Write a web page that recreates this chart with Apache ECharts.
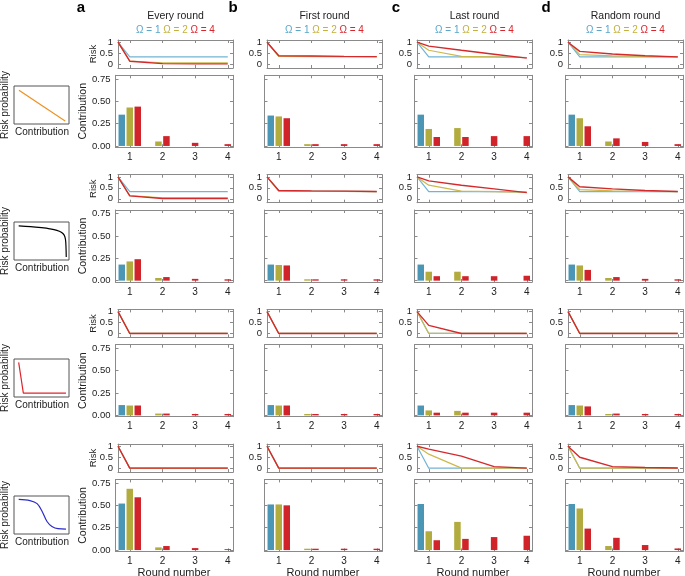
<!DOCTYPE html>
<html>
<head>
<meta charset="UTF-8">
<title>Risk and contribution per round</title>
<script src="https://cdn.jsdelivr.net/npm/echarts@6/dist/echarts.min.js"></script>
<style>
  html, body { margin: 0; padding: 0; background: #fff; }
  #chart { width: 685px; height: 576px; }
</style>
</head>
<body>
<div id="chart"></div>
<script>
var colTitles = ['Every round', 'First round', 'Last round', 'Random round'];
var panelLetters = ['a', 'b', 'c', 'd'];
var omegaLabels = ['Ω = 1', 'Ω = 2', 'Ω = 4'];
var rounds = [1, 2, 3, 4];
var riskRounds = [0.64, 1, 2, 3, 4];   // first point = before round 1
var riskTicks = [0, 0.5, 1];
var contribTicks = [0, 0.25, 0.5, 0.75];

// risk probability functions shown on the left, [contribution, risk]
var curveLinear = [[0.09, 0.89], [0.93, 0.08]];
var curveConcave = [[0.085, 0.9], [0.3, 0.88], [0.5, 0.85], [0.65, 0.82], [0.78, 0.78], [0.86, 0.73], [0.91, 0.66], [0.935, 0.55], [0.945, 0.35], [0.95, 0.08]];
var curveStep = [[0.085, 0.91], [0.17, 0.1], [0.945, 0.1]];
var curveSigmoid = [[0.085, 0.91], [0.29, 0.88], [0.42, 0.8], [0.51, 0.6], [0.6, 0.33], [0.69, 0.2], [0.8, 0.14], [0.945, 0.13]];

// risk after each round, per omega [1, 2, 4]
var riskA1 = [[1, 0.33, 0.33, 0.33, 0.33], [1, 0.14, 0.06, 0.06, 0.06], [1, 0.13, 0.02, 0.01, 0.01]];
var riskB1 = [[1, 0.36, 0.35, 0.34, 0.34], [1, 0.35, 0.34, 0.34, 0.34], [1, 0.38, 0.37, 0.35, 0.34]];
var riskC1 = [[1, 0.33, 0.33, 0.33, 0.3], [1, 0.63, 0.35, 0.33, 0.3], [1, 0.82, 0.63, 0.45, 0.27]];
var riskD1 = [[1, 0.33, 0.33, 0.33, 0.33], [1, 0.43, 0.37, 0.35, 0.33], [1, 0.58, 0.46, 0.38, 0.33]];
var riskA2 = [[1, 0.33, 0.33, 0.33, 0.33], [1, 0.14, 0.04, 0.04, 0.04], [1, 0.13, 0.01, 0.01, 0.01]];
var riskB2 = [[1, 0.36, 0.35, 0.34, 0.33], [1, 0.35, 0.34, 0.34, 0.33], [1, 0.38, 0.36, 0.35, 0.33]];
var riskC2 = [[1, 0.33, 0.33, 0.33, 0.3], [1, 0.62, 0.35, 0.33, 0.3], [1, 0.82, 0.62, 0.45, 0.28]];
var riskD2 = [[1, 0.33, 0.33, 0.33, 0.33], [1, 0.42, 0.36, 0.34, 0.33], [1, 0.55, 0.45, 0.38, 0.33]];
var riskA3 = [[1, 0, 0, 0, 0], [1, 0, 0, 0, 0], [1, 0, 0, 0, 0]];
var riskB3 = [[1, 0, 0, 0, 0], [1, 0, 0, 0, 0], [1, 0, 0, 0, 0]];
var riskC3 = [[1, 0, 0, 0, 0], [1, 0, 0, 0, 0], [1, 0.37, 0, 0, 0]];
var riskD3 = [[1, 0, 0, 0, 0], [1, 0, 0, 0, 0], [1, 0, 0, 0, 0]];
var riskA4 = [[1, 0, 0, 0, 0], [1, 0, 0, 0, 0], [1, 0, 0, 0, 0]];
var riskB4 = [[1, 0, 0, 0, 0], [1, 0, 0, 0, 0], [1, 0, 0, 0, 0]];
var riskC4 = [[1, 0, 0, 0, 0], [1, 0.64, 0, 0, 0], [1, 0.87, 0.55, 0.07, 0]];
var riskD4 = [[1, 0, 0, 0, 0], [1, 0, 0, 0, 0], [1, 0.5, 0.07, 0.03, 0.01]];

// mean contribution per round, per omega [1, 2, 4]
var contribA1 = [[0.35, 0, 0, 0], [0.43, 0.05, 0, 0], [0.44, 0.11, 0.035, 0.02]];
var contribB1 = [[0.34, 0, 0, 0], [0.33, 0.02, 0, 0], [0.31, 0.02, 0.02, 0.02]];
var contribC1 = [[0.35, 0, 0, 0], [0.19, 0.2, 0, 0], [0.1, 0.1, 0.11, 0.11]];
var contribD1 = [[0.35, 0, 0, 0], [0.31, 0.05, 0, 0], [0.22, 0.085, 0.045, 0.02]];
var contribA2 = [[0.18, 0, 0, 0], [0.215, 0.03, 0, 0], [0.24, 0.04, 0.02, 0.015]];
var contribB2 = [[0.18, 0, 0, 0], [0.175, 0.015, 0, 0], [0.17, 0.015, 0.015, 0.015]];
var contribC2 = [[0.18, 0, 0, 0], [0.1, 0.1, 0, 0], [0.05, 0.05, 0.05, 0.055]];
var contribD2 = [[0.18, 0, 0, 0], [0.17, 0.03, 0, 0], [0.12, 0.04, 0.02, 0.015]];
var contribA3 = [[0.115, 0, 0, 0], [0.11, 0.02, 0, 0], [0.11, 0.02, 0.015, 0.015]];
var contribB3 = [[0.115, 0, 0, 0], [0.11, 0.015, 0, 0], [0.11, 0.015, 0.015, 0.015]];
var contribC3 = [[0.11, 0, 0, 0], [0.055, 0.05, 0, 0], [0.03, 0.03, 0.03, 0.03]];
var contribD3 = [[0.115, 0, 0, 0], [0.11, 0.015, 0, 0], [0.1, 0.02, 0.015, 0.015]];
var contribA4 = [[0.52, 0, 0, 0], [0.685, 0.03, 0, 0], [0.59, 0.045, 0.022, 0.01]];
var contribB4 = [[0.51, 0, 0, 0], [0.51, 0.015, 0, 0], [0.5, 0.015, 0.015, 0.015]];
var contribC4 = [[0.515, 0, 0, 0], [0.21, 0.315, 0, 0], [0.11, 0.125, 0.145, 0.16]];
var contribD4 = [[0.515, 0, 0, 0], [0.465, 0.045, 0, 0], [0.24, 0.137, 0.056, 0.018]];

var curves = [curveLinear, curveConcave, curveStep, curveSigmoid];
var curveColors = ['#f0901f', '#000000', '#e0242b', '#2b2bc8'];
var riskRows = [[riskA1, riskB1, riskC1, riskD1], [riskA2, riskB2, riskC2, riskD2],
                [riskA3, riskB3, riskC3, riskD3], [riskA4, riskB4, riskC4, riskD4]];
var contribRows = [[contribA1, contribB1, contribC1, contribD1], [contribA2, contribB2, contribC2, contribD2],
                   [contribA3, contribB3, contribC3, contribD3], [contribA4, contribB4, contribC4, contribD4]];

var barColors = ['#4a96b4', '#b2ab3e', '#d0232a'];
var lineColors = ['#72b4d4', '#ccb94c', '#d42a2b'];
var legendColors = ['#5aa7cc', '#c4b03a', '#d8262e'];

var FONT = '"Liberation Sans", Arial, sans-serif';
var AXIS_COLOR = '#8a8a8a';
var TEXT = '#222';
var BAR_W = 6.5, BAR_GAP = 1.5;

var chart = echarts.init(document.getElementById('chart'));
var grids = [], xAxes = [], yAxes = [], series = [], graphics = [];

var colLeft = [118, 267, 417, 568];
var firstRowTop = 40, rowStep = 134.7;

function addPlot(box, xr, yr, yTicks, showX, showY, yFmt) {
    var g = grids.length;
    grids.push({left: box[0], top: box[1], width: box[2], height: box[3],
                containLabel: false, outerBoundsMode: 'none'});
    var xi = xAxes.length, yi = yAxes.length;
    ['bottom', 'top'].forEach(function (pos, k) {
        xAxes.push({
            gridIndex: g, type: 'value', position: pos, min: xr[0], max: xr[1],
            axisLine: {show: true, onZero: false, lineStyle: {color: AXIS_COLOR, width: 1}},
            axisTick: {show: true, inside: true, length: 3, customValues: rounds, lineStyle: {color: AXIS_COLOR}},
            axisLabel: {show: k === 0 && showX, customValues: rounds, margin: 5,
                        fontSize: 10, color: TEXT, fontFamily: FONT},
            splitLine: {show: false}
        });
    });
    ['left', 'right'].forEach(function (pos, k) {
        yAxes.push({
            gridIndex: g, type: 'value', position: pos, min: yr[0], max: yr[1],
            axisLine: {show: true, onZero: false, lineStyle: {color: AXIS_COLOR, width: 1}},
            axisTick: {show: true, inside: true, length: 3, customValues: yTicks, lineStyle: {color: AXIS_COLOR}},
            axisLabel: {show: k === 0 && showY, customValues: yTicks, margin: 5,
                        fontSize: 9.5, color: TEXT, fontFamily: FONT, formatter: yFmt},
            splitLine: {show: false}
        });
    });
    return [xi, yi];
}

// bars of one round, only the non-zero ones, centred on the round tick
function renderBars(params, api) {
    var round = api.value(0);
    var vals = [api.value(1), api.value(2), api.value(3)];
    var shown = [];
    vals.forEach(function (v, k) { if (v > 0) shown.push(k); });
    var base = api.coord([round, 0]);
    var total = shown.length * BAR_W + (shown.length - 1) * BAR_GAP;
    return {
        type: 'group',
        children: shown.map(function (k, i) {
            var tip = api.coord([round, vals[k]]);
            return {type: 'rect',
                    shape: {x: base[0] - total / 2 + i * (BAR_W + BAR_GAP), y: tip[1],
                            width: BAR_W, height: base[1] - tip[1]},
                    style: {fill: barColors[k]}};
        })
    };
}

function addText(x, y, str, size, opts) {
    opts = opts || {};
    graphics.push({
        type: 'text', x: x, y: y, rotation: opts.rotation || 0, silent: true,
        style: {text: str, fill: opts.color || TEXT, textAlign: 'center', textVerticalAlign: 'middle',
                font: (opts.bold ? 'bold ' : '') + size + 'px ' + FONT, rich: opts.rich}
    });
}

// column headers
var legendRich = {};
omegaLabels.forEach(function (lab, k) {
    legendRich['o' + k] = {fill: legendColors[k], color: legendColors[k], fontSize: 10, fontFamily: FONT};
});
for (var c = 0; c < 4; c++) {
    var cx = colLeft[c] + 57.5;
    addText(cx, 16, colTitles[c], 10.5);
    addText(cx, 30, '{o0|' + omegaLabels[0] + '} {o1|' + omegaLabels[1] + '} {o2|' + omegaLabels[2] + '}', 10, {rich: legendRich});
}
var letterX = [81, 233, 396, 546];
panelLetters.forEach(function (l, k) { addText(letterX[k], 8, l, 15, {bold: true, color: '#000'}); });

var iconTop = [86, 222, 359, 496];

for (var r = 0; r < 4; r++) {
    var rTop = firstRowTop + rowStep * r;

    // risk probability function icon
    var gi = grids.length;
    grids.push({left: 14, top: iconTop[r], width: 55, height: 38, show: true,
                borderColor: '#555', borderWidth: 1, backgroundColor: 'transparent',
                containLabel: false, outerBoundsMode: 'none'});
    var ix = xAxes.length, iy = yAxes.length;
    xAxes.push({gridIndex: gi, type: 'value', min: 0, max: 1, show: false});
    yAxes.push({gridIndex: gi, type: 'value', min: 0, max: 1, show: false});
    series.push({type: 'line', xAxisIndex: ix, yAxisIndex: iy, data: curves[r],
                 smooth: r === 1 || r === 3 ? 0.35 : false, showSymbol: false, silent: true,
                 lineStyle: {color: curveColors[r], width: 1.2}});
    addText(42, iconTop[r] + 46, 'Contribution', 10);
    addText(5.5, iconTop[r] + 19, 'Risk probability', 10, {rotation: Math.PI / 2});

    for (var c = 0; c < 4; c++) {
        // risk over rounds
        var ra = addPlot([colLeft[c], rTop, 115, 28], [0.64, 4.16], [-0.18, 1.1], riskTicks, false, true);
        riskRows[r][c].forEach(function (vals, k) {
            series.push({type: 'line', xAxisIndex: ra[0], yAxisIndex: ra[1],
                         data: riskRounds.map(function (x, i) { return [x, vals[i]]; }),
                         showSymbol: false, silent: true,
                         lineStyle: {color: lineColors[k], width: k === 2 ? 1.4 : 1.2}});
        });
        // contribution bars
        var ba = addPlot([colLeft[c] - 2.5, rTop + 35.3, 117.5, 72], [0.563, 4.16], [-0.015, 0.79],
                         contribTicks, true, c === 0, function (v) { return v.toFixed(2); });
        var cv = contribRows[r][c];
        series.push({type: 'custom', xAxisIndex: ba[0], yAxisIndex: ba[1], silent: true,
                     renderItem: renderBars, encode: {x: 0, y: [1, 2, 3]},
                     data: rounds.map(function (x, i) { return [x, cv[0][i], cv[1][i], cv[2][i]]; })});
    }
    addText(93, rTop + 14, 'Risk', 9.5, {rotation: Math.PI / 2});
    addText(83, rTop + 35.3 + 36, 'Contribution', 10.5, {rotation: Math.PI / 2});
}

for (var c = 0; c < 4; c++) {
    addText(colLeft[c] + 56, 573, 'Round number', 11);
}

chart.setOption({
    animation: false,
    backgroundColor: '#fff',
    grid: grids,
    xAxis: xAxes,
    yAxis: yAxes,
    series: series,
    graphic: graphics
});
</script>
</body>
</html>
